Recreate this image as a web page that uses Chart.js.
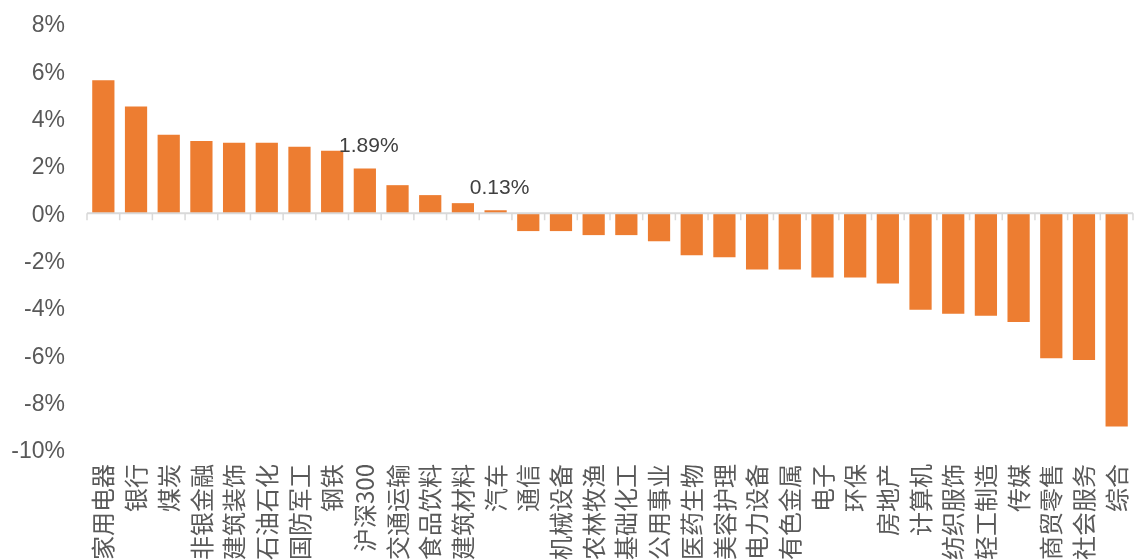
<!DOCTYPE html>
<html>
<head>
<meta charset="utf-8">
<script src="https://cdn.jsdelivr.net/npm/chart.js@4.4.1/dist/chart.umd.min.js"></script>
<style>
  html, body { margin: 0; padding: 0; background: #fff; }
  #wrap { width: 1135px; height: 560px; position: relative; overflow: hidden; }
</style>
</head>
<body>
<div id="wrap"><canvas id="barChart"></canvas></div>
<script>
// Industry returns (%)
const categories = ["家用电器", "银行", "煤炭", "非银金融", "建筑装饰", "石油石化", "国防军工", "钢铁",
    "沪深300", "交通运输", "食品饮料", "建筑材料", "汽车", "通信", "机械设备", "农林牧渔",
    "基础化工", "公用事业", "医药生物", "美容护理", "电力设备", "有色金属", "电子", "环保",
    "房地产", "计算机", "纺织服饰", "轻工制造", "传媒", "商贸零售", "社会服务", "综合"];
const returns = [5.62, 4.51, 3.32, 3.06, 2.98, 2.98, 2.81, 2.64,
    1.89, 1.19, 0.77, 0.43, 0.13, -0.75, -0.75, -0.92,
    -0.92, -1.18, -1.77, -1.86, -2.37, -2.37, -2.71, -2.71,
    -2.97, -4.07, -4.24, -4.33, -4.59, -6.12, -6.20, -9.01];
// only these bars carry a value label
const labelled = ["沪深300", "汽车"];
const yTicks = [8, 6, 4, 2, 0, -2, -4, -6, -8, -10];

const barColor = "#ED7D31";
const textColor = "#595959";

// zero axis line plus small tick marks between categories
const zeroAxis = {
    id: "zeroAxis",
    afterDatasetsDraw(chart) {
        const { ctx, scales: { x, y } } = chart;
        const y0 = y.getPixelForValue(0);
        const step = x.getPixelForValue(1) - x.getPixelForValue(0);
        ctx.save();
        ctx.strokeStyle = "#D9D9D9";
        ctx.lineWidth = 2;
        ctx.beginPath();
        ctx.moveTo(x.left, y0);
        ctx.lineTo(x.right, y0);
        ctx.stroke();
        ctx.lineWidth = 1.5;
        ctx.beginPath();
        for (let i = 0; i <= categories.length; i++) {
            const px = x.getPixelForValue(0) - step / 2 + i * step;
            ctx.moveTo(px, y0);
            ctx.lineTo(px, y0 + 7);
        }
        ctx.stroke();
        ctx.restore();
    }
};

const valueLabels = {
    id: "valueLabels",
    afterDatasetsDraw(chart) {
        const { ctx } = chart;
        const meta = chart.getDatasetMeta(0);
        ctx.save();
        ctx.font = "21px 'Liberation Sans', Arial, sans-serif";
        ctx.fillStyle = "#404040";
        ctx.textAlign = "center";
        ctx.textBaseline = "middle";
        meta.data.forEach((bar, i) => {
            if (!labelled.includes(categories[i])) return;
            ctx.fillText(returns[i].toFixed(2) + "%", bar.x + 4, bar.y - 22);
        });
        ctx.restore();
    }
};

const ctx = document.getElementById("barChart");
new Chart(ctx, {
    type: "bar",
    data: {
        labels: categories,
        datasets: [{
            data: returns,
            backgroundColor: barColor,
            categoryPercentage: 1.0,
            barPercentage: 0.68
        }]
    },
    options: {
        responsive: true,
        maintainAspectRatio: false,
        animation: false,
        layout: { padding: { top: 24, right: 2, left: 0, bottom: 0 } },
        plugins: { legend: { display: false }, tooltip: { enabled: false } },
        scales: {
            x: {
                grid: { display: false, drawTicks: false },
                border: { display: false },
                ticks: {
                    color: textColor,
                    font: { family: "'Noto Sans CJK SC', sans-serif", size: 24 },
                    maxRotation: 90,
                    minRotation: 90,
                    autoSkip: false,
                    padding: 14
                },
                afterFit(scale) {
                    scale.height = 110;
                    scale.paddingLeft = 0;
                    scale.paddingRight = 0;
                }
            },
            y: {
                min: -10,
                max: 8,
                afterBuildTicks(scale) { scale.ticks = yTicks.map(v => ({ value: v })); },
                grid: { display: false, drawTicks: false },
                border: { display: false },
                ticks: {
                    color: textColor,
                    font: { family: "'Liberation Sans', Arial, sans-serif", size: 23 },
                    padding: 22,
                    labelOffset: 2,
                    callback: v => v + "%"
                },
                afterFit(scale) {
                    scale.width = 87;
                    scale.paddingTop = 0;
                    scale.paddingBottom = 0;
                }
            }
        }
    },
    plugins: [zeroAxis, valueLabels]
});
</script>
</body>
</html>
